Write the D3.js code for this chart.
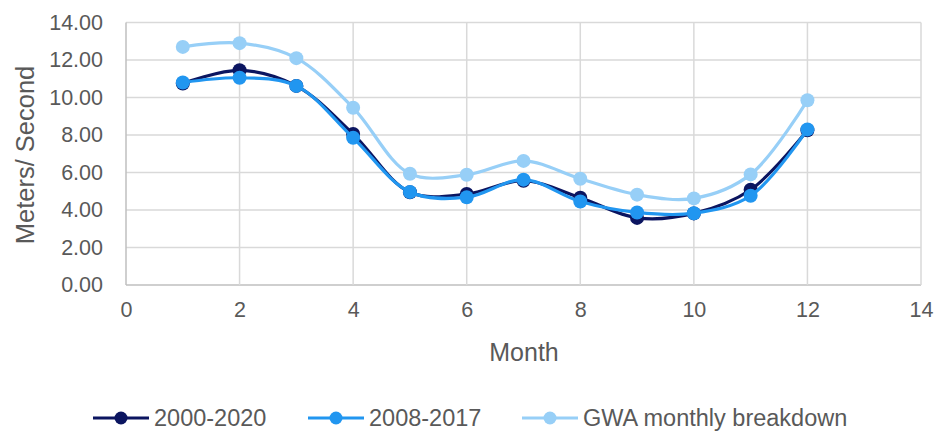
<!DOCTYPE html>
<html><head><meta charset="utf-8">
<script src="https://cdn.jsdelivr.net/npm/d3@7"></script>
<style>
body{margin:0;background:#fff;}
text{font-family:"Liberation Sans",Arial,sans-serif;fill:#595959;}
</style></head>
<body><svg id="chart" width="948" height="432"></svg>
<script>
const months = [1,2,3,4,5,6,7,8,9,10,11,12];
const seriesNames = ["2000-2020","2008-2017","GWA monthly breakdown"];
const s2000_2020 = [10.75,11.45,10.62,8.05,4.95,4.85,5.56,4.65,3.58,3.82,5.08,8.25];
const s2008_2017 = [10.8,11.05,10.62,7.85,4.96,4.68,5.62,4.45,3.87,3.83,4.76,8.3];
const sGWA = [12.7,12.9,12.1,9.45,5.93,5.88,6.62,5.67,4.82,4.62,5.9,9.85];
const xTicks = [0,2,4,6,8,10,12,14];
const yTicks = [0,2,4,6,8,10,12,14];
const colors = ["#0b1560","#2196f0","#97cff7"];

const svg = d3.select("#chart");
const x = d3.scaleLinear().domain([0,14]).range([126,921]);
const y = d3.scaleLinear().domain([0,14]).range([285,22.5]);

// gridlines
svg.append("g").selectAll("line").data(yTicks).join("line")
  .attr("x1",x(0)).attr("x2",x(14)).attr("y1",d=>y(d)).attr("y2",d=>y(d))
  .attr("stroke",d=>d===0?"#bfbfbf":"#d9d9d9").attr("stroke-width",1.5);
svg.append("g").selectAll("line").data(xTicks).join("line")
  .attr("y1",y(0)).attr("y2",y(14)).attr("x1",d=>x(d)).attr("x2",d=>x(d))
  .attr("stroke",d=>d===0?"#bfbfbf":"#d9d9d9").attr("stroke-width",1.5);

// axes via d3
const yAxis = svg.append("g").attr("transform",`translate(${x(0)},0)`)
  .call(d3.axisLeft(y).tickValues(yTicks).tickFormat(d3.format(".2f")).tickSize(0).tickPadding(23));
yAxis.select(".domain").remove();
yAxis.selectAll("text").style("font-size","21.5px").attr("fill","#595959");
const xAxis = svg.append("g").attr("transform",`translate(0,${y(0)})`)
  .call(d3.axisBottom(x).tickValues(xTicks).tickFormat(d3.format("d")).tickSize(0).tickPadding(17));
xAxis.select(".domain").remove();
xAxis.selectAll("text").style("font-size","21.5px").attr("fill","#595959");

// titles
svg.append("text").attr("x",524).attr("y",361).attr("text-anchor","middle")
  .style("font-size","25px").text("Month");
svg.append("text").attr("transform","translate(34,155) rotate(-90)").attr("text-anchor","middle")
  .style("font-size","25.5px").text("Meters/ Second");

// series
const allSeries = [s2000_2020, s2008_2017, sGWA];
const line = d3.line().x((d,i)=>x(months[i])).y(d=>y(d)).curve(d3.curveCatmullRom.alpha(0.5));
const order = [2,0,1];
order.forEach(si=>{
  const vals = allSeries[si];
  const g = svg.append("g");
  g.append("path").datum(vals).attr("d",line).attr("fill","none")
    .attr("stroke",colors[si]).attr("stroke-width",3.2);
  g.selectAll("circle").data(vals).join("circle")
    .attr("cx",(d,i)=>x(months[i])).attr("cy",d=>y(d)).attr("r",7).attr("fill",colors[si]);
});

// legend
const legX = [93,308,522];
const lg = svg.append("g");
seriesNames.forEach((n,i)=>{
  const g = lg.append("g").attr("transform",`translate(${legX[i]},418)`);
  g.append("line").attr("x1",0).attr("x2",56).attr("stroke",colors[i]).attr("stroke-width",3.2);
  g.append("circle").attr("cx",28).attr("r",6.5).attr("fill",colors[i]);
  g.append("text").attr("x",61).attr("y",8).style("font-size","23.5px").text(n);
});
</script></body></html>
